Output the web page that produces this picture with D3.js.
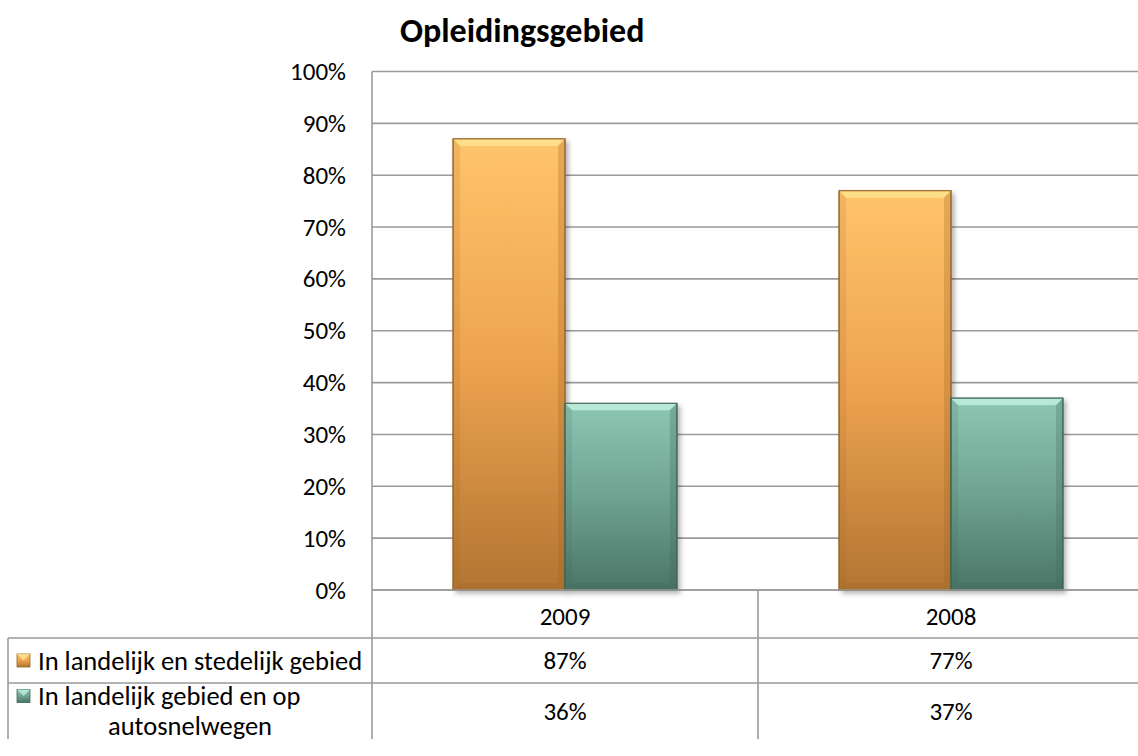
<!DOCTYPE html>
<html><head><meta charset="utf-8">
<script src="https://cdn.jsdelivr.net/npm/d3@7"></script>
<style>
html,body{margin:0;padding:0;background:#fff;}
svg{display:block;}
text{font-family:Carlito,Lato,"Open Sans",sans-serif;fill:#000;}
</style></head><body>
<svg id="chart" width="1138" height="756"></svg>
<script>
const title = "Opleidingsgebied";
const categories = ["2009", "2008"];
const seriesNames = ["In landelijk en stedelijk gebied", "In landelijk gebied en op autosnelwegen"];
const seriesLegendLines = [["In landelijk en stedelijk gebied"], ["In landelijk gebied en op", "autosnelwegen"]];
const series1 = [0.87, 0.77];
const series2 = [0.36, 0.37];
const yTicks = [0, 0.1, 0.2, 0.3, 0.4, 0.5, 0.6, 0.7, 0.8, 0.9, 1.0];

const svg = d3.select("#chart");
const L = 372, R = 1144, T = 71.5, B = 590;
const rows = [590, 638, 683, 739];
const tableLeft = 8;

const defs = svg.append("defs");
const palettes = [
  {top:"#ffc46a", mid:"#eda34f", bot:"#b27532", bevel:"#ffe38f", edge:"#9a6428"},
  {top:"#8cc7b3", mid:"#6fa391", bot:"#4a7567", bevel:"#c0eedd", edge:"#3f6558"}
];
palettes.forEach((p,i)=>{
  const g = defs.append("linearGradient").attr("id","g"+i).attr("x1",0).attr("y1",0).attr("x2",0).attr("y2",1);
  g.append("stop").attr("offset","0%").attr("stop-color",p.top);
  g.append("stop").attr("offset","50%").attr("stop-color",p.mid);
  g.append("stop").attr("offset","100%").attr("stop-color",p.bot);
});
const f = defs.append("filter").attr("id","sh").attr("x","-10%").attr("y","-10%").attr("width","130%").attr("height","130%");
f.append("feDropShadow").attr("dx",3).attr("dy",3).attr("stdDeviation",2.5).attr("flood-color","#000").attr("flood-opacity",0.3);

const y = d3.scaleLinear().domain([0,1]).range([B,T]);
const x0 = d3.scaleBand().domain(categories).range([L,R]).paddingInner(0.42).paddingOuter(0.21);
const x1 = d3.scaleBand().domain([0,1]).range([0,x0.bandwidth()]);

const fs = "25px";
const fsLegend = "26.5px";

// gridlines
svg.append("g").selectAll("line").data(yTicks).join("line")
  .attr("x1",L).attr("x2",1138).attr("y1",d=>y(d)).attr("y2",d=>y(d))
  .attr("stroke","#9a9a9a").attr("stroke-width",1.6);

// y axis
const yAxis = d3.axisLeft(y).tickValues(yTicks).tickFormat(d3.format(".0%")).tickSize(0).tickPadding(26);
const ga = svg.append("g").attr("transform",`translate(${L},0)`).call(yAxis);
ga.select(".domain").remove();
ga.selectAll("text").style("font-size",fs).style("font-family","Carlito,Lato,'Open Sans',sans-serif").attr("fill","#000");

// bars
const data = [series1, series2];
categories.forEach((c,ci)=>{
  data.forEach((s,si)=>{
    const v = s[ci];
    const bx = x0(c) + x1(si), bw = x1.bandwidth();
    const by = y(v), bh = y(0) - y(v);
    const p = palettes[si];
    const g = svg.append("g");
    g.append("rect").attr("x",bx).attr("y",by).attr("width",bw).attr("height",bh)
      .attr("fill",`url(#g${si})`).attr("stroke",p.edge).attr("stroke-width",1).attr("filter","url(#sh)");
    const bv = 7;
    g.append("polygon").attr("points",[[bx,by],[bx+bw,by],[bx+bw-bv,by+bv],[bx+bv,by+bv]].map(q=>q.join(",")).join(" "))
      .attr("fill",p.bevel).attr("opacity",0.85);
    g.append("polygon").attr("points",[[bx,by],[bx+bv,by+bv],[bx+bv,by+bh-bv],[bx,by+bh]].map(q=>q.join(",")).join(" "))
      .attr("fill",p.edge).attr("opacity",0.15);
    g.append("polygon").attr("points",[[bx+bw,by],[bx+bw-bv,by+bv],[bx+bw-bv,by+bh-bv],[bx+bw,by+bh]].map(q=>q.join(",")).join(" "))
      .attr("fill",p.edge).attr("opacity",0.28);
    g.append("polygon").attr("points",[[bx,by+bh],[bx+bv,by+bh-bv],[bx+bw-bv,by+bh-bv],[bx+bw,by+bh]].map(q=>q.join(",")).join(" "))
      .attr("fill",p.edge).attr("opacity",0.28);
    g.append("rect").attr("x",bx).attr("y",by).attr("width",bw).attr("height",bh)
      .attr("fill","none").attr("stroke",p.edge).attr("stroke-width",1);
  });
});

// table lines
const lc = "#9a9a9a", lw = 1.6;
svg.append("line").attr("x1",L).attr("x2",1138).attr("y1",B).attr("y2",B).attr("stroke",lc).attr("stroke-width",lw);
[rows[1],rows[2]].forEach(ry=>{
  svg.append("line").attr("x1",tableLeft).attr("x2",1138).attr("y1",ry).attr("y2",ry).attr("stroke",lc).attr("stroke-width",lw);
});
svg.append("line").attr("x1",L).attr("x2",L).attr("y1",T).attr("y2",rows[3]).attr("stroke",lc).attr("stroke-width",lw);
svg.append("line").attr("x1",tableLeft).attr("x2",tableLeft).attr("y1",rows[1]).attr("y2",rows[3]).attr("stroke",lc).attr("stroke-width",lw);
const mid = (x0(categories[0]) + x0.bandwidth() + x0(categories[1]))/2;
svg.append("line").attr("x1",mid).attr("x2",mid).attr("y1",B).attr("y2",rows[3]).attr("stroke",lc).attr("stroke-width",lw);

// category labels
svg.append("g").selectAll("text").data(categories).join("text")
  .attr("x",d=>x0(d)+x0.bandwidth()/2).attr("y",(rows[0]+rows[1])/2+2).attr("dy","0.35em")
  .attr("text-anchor","middle").style("font-size",fs).text(d=>d);
// values
data.forEach((s,si)=>{
  svg.append("g").selectAll("text").data(s).join("text")
    .attr("x",(d,i)=>x0(categories[i])+x0.bandwidth()/2).attr("y",(rows[si+1]+rows[si+2])/2).attr("dy","0.35em")
    .attr("text-anchor","middle").style("font-size",fs).text(d=>d3.format(".0%")(d));
});
// legend cells
const lh = 15;
seriesLegendLines.forEach((lines,si)=>{
  const cy = (rows[si+1]+rows[si+2])/2;
  const p = palettes[si];
  const mx = 17, ms = 13;
  const my = si===0 ? cy-6.5 : cy-6.5-lh;
  svg.append("rect").attr("x",mx).attr("y",my).attr("width",ms).attr("height",ms).attr("fill",`url(#g${si})`).attr("stroke",p.edge).attr("stroke-width",0.8);
  svg.append("polygon").attr("points",[[mx,my],[mx+ms,my],[mx+ms/2,my+ms/2]].map(q=>q.join(",")).join(" ")).attr("fill",p.bevel).attr("opacity",0.8);
  if(lines.length===1){
    svg.append("text").attr("x",38).attr("y",cy).attr("dy","0.35em").style("font-size",fsLegend).text(lines[0]);
  } else {
    svg.append("text").attr("x",38).attr("y",cy-lh).attr("dy","0.35em").style("font-size",fsLegend).text(lines[0]);
    svg.append("text").attr("x",(tableLeft+L)/2).attr("y",cy+lh).attr("dy","0.35em").attr("text-anchor","middle").style("font-size",fsLegend).text(lines[1]);
  }
});

// title
svg.append("text").attr("x",400).attr("y",30).attr("dy","0.35em").attr("text-anchor","start")
  .style("font-size","34px").style("font-weight","bold").text(title);
</script>
</body></html>
